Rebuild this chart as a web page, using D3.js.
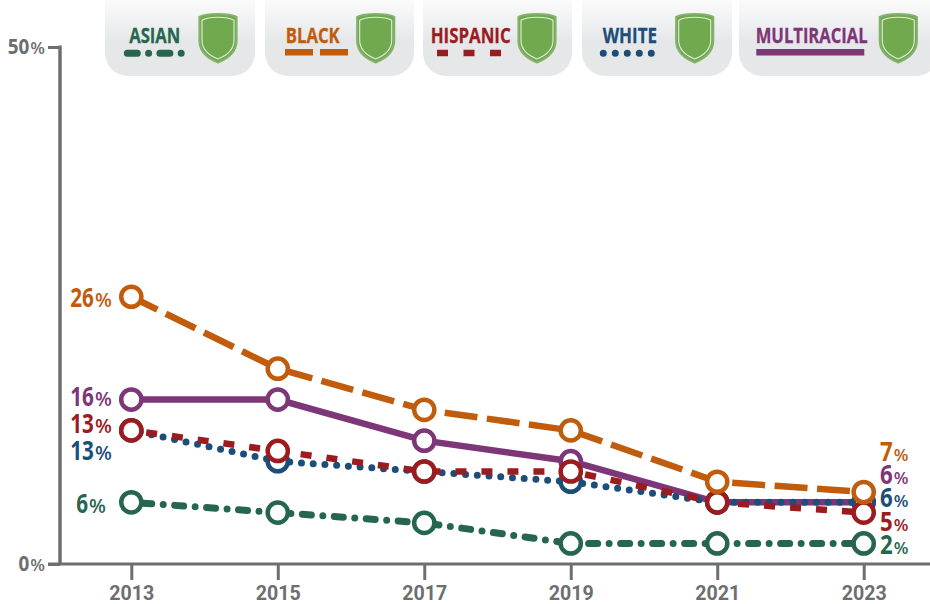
<!DOCTYPE html>
<html>
<head>
<meta charset="utf-8">
<script src="https://cdn.jsdelivr.net/npm/d3@7"></script>
<style>
  html, body { margin: 0; padding: 0; background: #fff; }
  svg { display: block; }
  .cond { font-family: "Open Sans", sans-serif; font-weight: 700; }
  .pct { font-family: "Open Sans", sans-serif; font-weight: 600; }
  .tick text { font-family: Roboto, sans-serif; font-weight: 700; font-size: 20px; fill: #6d6e70; }
</style>
</head>
<body>
<div id="chart"></div>
<script>
// Data
var years = [2013, 2015, 2017, 2019, 2021, 2023];
var asian = [6, 5, 4, 2, 2, 2];
var black = [26, 19, 15, 13, 8, 7];
var hispanic = [13, 11, 9, 9, 6, 5];
var white = [13, 10, 9, 8, 6, 6];
var multiracial = [16, 16, 12, 10, 6, 6];
// top tick sits a touch above the spacing of the points, it still reads 50%
var yTicks = [0, 50.3];

// Chart params
var svgWidth = 930;
var svgHeight = 604;
var grey = "#6d6e70";

var xScale = d3.scaleLinear().domain([2013, 2023]).range([131.3, 863.7]);
var yScale = d3.scaleLinear().domain([0, 50.3]).range([564, 47]);

// leftDy / rightDy = baseline of the end labels relative to the point
var seriesList = [
  { name: "MULTIRACIAL", values: multiracial, color: "#7d3677", dash: null, offset: 0, cap: "butt", width: 6.5, leftDy: 6, rightDy: -18,
    legend: { x: 739, w: 200, textX: 755.7, textW: 112, lineX: [756.3, 864.3], lineY: 52.3, shield: 898.3, dash: null } },
  { name: "WHITE", values: white, color: "#1c4e79", dash: "0,11.75", offset: 2.8, cap: "round", width: 7, leftDy: 30, rightDy: 5,
    legend: { x: 582, w: 150, textX: 602.7, textW: 54.3, lineX: [603.3, 656], lineY: 53.3, shield: 694.7, dash: "0,12" } },
  { name: "ASIAN", values: asian, color: "#26664f", dash: "9,11.5,0,11.5", offset: 20.5, cap: "round", width: 7, leftDy: 10.7, rightDy: 11,
    legend: { x: 105, w: 150, textX: 129.3, textW: 51, lineX: [127.3, 182], lineY: 53.3, shield: 218, dash: "10,11.3,0,11.3" } },
  { name: "HISPANIC", values: hispanic, color: "#9b1b1f", dash: "11,15", offset: 11, cap: "butt", width: 6.5, leftDy: 3, rightDy: 18,
    legend: { x: 423, w: 149, textX: 430.7, textW: 80, lineX: [437, 501], lineY: 53, shield: 537, dash: "11,15.5" } },
  { name: "BLACK", values: black, color: "#c05c0c", dash: "33,9.5", offset: 4, cap: "butt", width: 6.5, leftDy: 10.7, rightDy: -31.5,
    legend: { x: 265, w: 149, textX: 285.7, textW: 54, lineX: [285, 348], lineY: 52.3, shield: 375.7, dash: "28,7" } }
];

var svg = d3.select("#chart")
  .append("svg")
  .attr("width", svgWidth)
  .attr("height", svgHeight);

var defs = svg.append("defs");
var grad = defs.append("linearGradient")
  .attr("id", "legendBg")
  .attr("x1", 0).attr("x2", 0).attr("y1", 0).attr("y2", 1);
grad.append("stop").attr("offset", "0%").attr("stop-color", "#fbfbfb");
grad.append("stop").attr("offset", "55%").attr("stop-color", "#e6e7e9");
grad.append("stop").attr("offset", "100%").attr("stop-color", "#e6e7e9");

// Legend cards with the shield badge
function cardPath(x, w) {
  var h = 76, r = 23;
  return `M${x},0 V${h - r} A${r},${r} 0 0 0 ${x + r},${h} H${x + w - r} A${r},${r} 0 0 0 ${x + w},${h - r} V0 Z`;
}

function shieldPath(cx, top, hw, h) {
  return `M${cx},${top} C${cx + hw * 0.5},${top} ${cx + hw * 0.8},${top + 1} ${cx + hw},${top + 3}
    V${top + h * 0.55} C${cx + hw},${top + h * 0.8} ${cx + hw * 0.45},${top + h * 0.93} ${cx},${top + h}
    C${cx - hw * 0.45},${top + h * 0.93} ${cx - hw},${top + h * 0.8} ${cx - hw},${top + h * 0.55}
    V${top + 3} C${cx - hw * 0.8},${top + 1} ${cx - hw * 0.5},${top} ${cx},${top} Z`;
}

var legendGroup = svg.append("g");
seriesList.forEach(function(s) {
  var l = s.legend;
  var g = legendGroup.append("g");
  g.append("path").attr("d", cardPath(l.x, l.w)).attr("fill", "url(#legendBg)");
  g.append("path").attr("d", shieldPath(l.shield, 14, 18.6, 48.5))
    .attr("fill", "#70a94e").attr("stroke", "#84b16c").attr("stroke-width", 2);
  g.append("path").attr("d", shieldPath(l.shield, 17.2, 16, 41.8))
    .attr("fill", "none").attr("stroke", "#e5ebe0").attr("stroke-width", 1.1);
  g.append("text").attr("class", "cond")
    .attr("x", l.textX).attr("y", 43)
    .attr("font-size", 22)
    .attr("textLength", l.textW)
    .attr("lengthAdjust", "spacingAndGlyphs")
    .attr("fill", s.color)
    .attr("stroke", s.color)
    .attr("stroke-width", 0.3)
    .text(s.name);
  g.append("line")
    .attr("x1", l.lineX[0]).attr("x2", l.lineX[1])
    .attr("y1", l.lineY).attr("y2", l.lineY)
    .attr("stroke", s.color)
    .attr("stroke-width", s.width)
    .attr("stroke-linecap", s.cap)
    .attr("stroke-dasharray", l.dash);
});

// Axes
var bottomAxis = d3.axisBottom(xScale).tickValues(years).tickFormat(d3.format("d")).tickSize(16).tickPadding(6);
var leftAxis = d3.axisLeft(yScale).tickValues(yTicks).tickSize(12).tickFormat(function() { return ""; });

var xAxis = svg.append("g").attr("transform", "translate(0, 564)").call(bottomAxis);
var yAxis = svg.append("g").attr("transform", "translate(60, 0)").call(leftAxis);
xAxis.select(".domain").remove();
yAxis.select(".domain").attr("stroke", grey).attr("stroke-width", 3.5).attr("d", "M0,45.5V564");
xAxis.selectAll("line").attr("stroke", grey).attr("stroke-width", 3);
yAxis.selectAll("line").attr("stroke", grey).attr("stroke-width", 3);
xAxis.selectAll("text").attr("textLength", 45).attr("lengthAdjust", "spacingAndGlyphs");

svg.append("line")
  .attr("x1", 48).attr("x2", 930)
  .attr("y1", yScale(0)).attr("y2", yScale(0))
  .attr("stroke", grey).attr("stroke-width", 3);

// number and percent sign are drawn apart, the number is squeezed sideways
function pctLabel(g, x, y, val, align, numSize, pctSize, numScale, color) {
  var num = g.append("text").attr("class", "cond")
    .attr("font-size", numSize)
    .attr("fill", color)
    .text(val);
  var numWidth = num.node().getComputedTextLength() * numScale;
  var pct = g.append("text").attr("class", "pct")
    .attr("font-size", pctSize)
    .attr("fill", color)
    .text("%");
  var pctWidth = pct.node().getComputedTextLength();
  var total = numWidth + 1 + pctWidth;
  var left = x;
  if (align === "middle") left = x - total / 2;
  if (align === "end") left = x - total;
  num.attr("transform", `translate(${left}, ${y}) scale(${numScale}, 1)`);
  pct.attr("x", left + numWidth + 1).attr("y", y);
}

yTicks.forEach(function(v) {
  pctLabel(svg, 45, yScale(v) + 7, Math.round(v), "end", 21, 17, 0.9, grey);
});

// Lines
var lineGen = d3.line()
  .x(function(d, i) { return xScale(years[i]); })
  .y(function(d) { return yScale(d); });

seriesList.forEach(function(s) {
  var g = svg.append("g");
  g.append("path")
    .attr("d", lineGen(s.values))
    .attr("fill", "none")
    .attr("stroke", s.color)
    .attr("stroke-width", s.width)
    .attr("stroke-linecap", s.cap)
    .attr("stroke-dasharray", s.dash)
    .attr("stroke-dashoffset", s.offset);
  g.selectAll("circle")
    .data(s.values)
    .enter()
    .append("circle")
    .attr("cx", function(d, i) { return xScale(years[i]); })
    .attr("cy", function(d) { return yScale(d); })
    .attr("r", 10.1)
    .attr("fill", "#fff")
    .attr("stroke", s.color)
    .attr("stroke-width", 4.5);
  var first = s.values[0], last = s.values[s.values.length - 1];
  pctLabel(g, 91, yScale(first) + s.leftDy, first, "middle", 26.5, 19.5, 0.78, s.color);
  pctLabel(g, 880, yScale(last) + s.rightDy, last, "start", 26.5, 17, 0.84, s.color);
});
</script>
</body>
</html>
